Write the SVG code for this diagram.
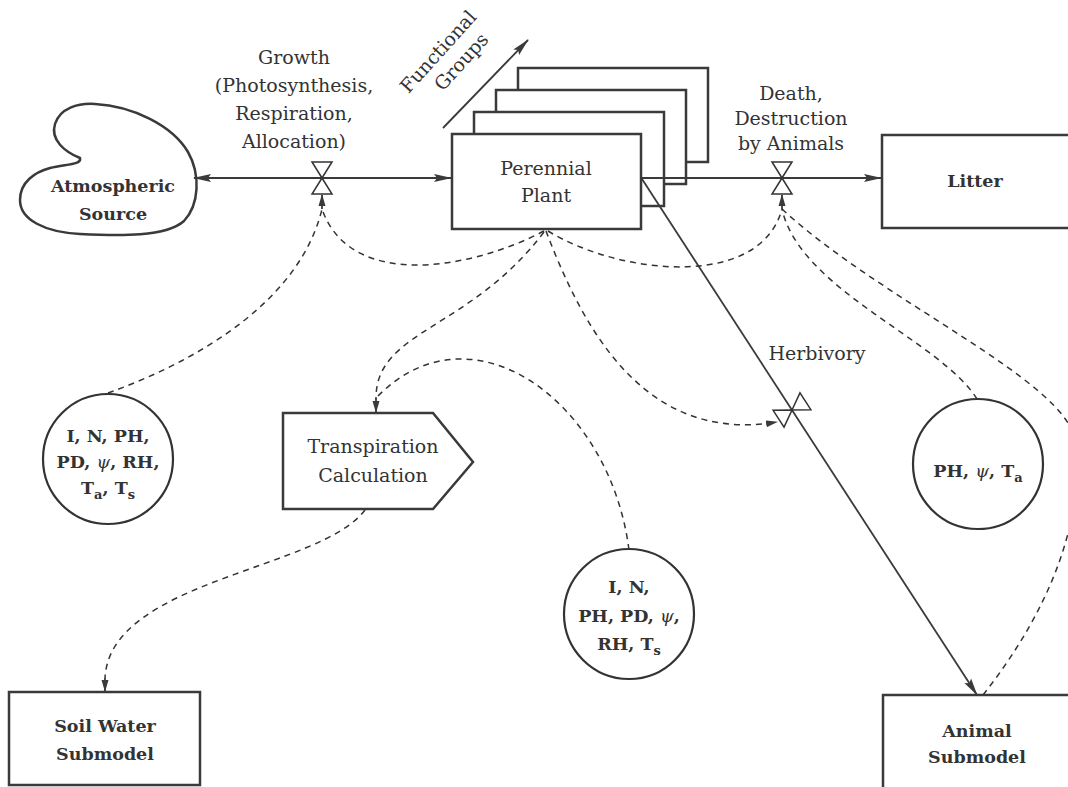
<svg xmlns="http://www.w3.org/2000/svg" width="1068" height="787" viewBox="0 0 1068 787">
<style>
.box{fill:#fff;stroke:#3a3a3a;stroke-width:2.5}
.circ{fill:#fff;stroke:#333;stroke-width:2.2}
.t{font-family:"DejaVu Serif","Liberation Serif",serif;font-size:19px;fill:#333;text-anchor:middle}
.b{font-weight:bold;font-size:17.5px}
.flow{fill:none;stroke:#3a3a3a;stroke-width:1.8}
.dash{fill:none;stroke:#333;stroke-width:1.5;stroke-dasharray:6 5}
.psi{font-style:italic;font-weight:normal}
</style>
<defs>
<marker id="big" markerUnits="userSpaceOnUse" viewBox="0 0 18 10" refX="17" refY="5" markerWidth="18" markerHeight="10" orient="auto"><path d="M0,1 L18,5 L0,9 L3,5 Z" fill="#3a3a3a"/></marker>
<marker id="small" markerUnits="userSpaceOnUse" viewBox="0 0 12 8" refX="11" refY="4" markerWidth="12" markerHeight="8" orient="auto"><path d="M0,0.5 L12,4 L0,7.5 Z" fill="#3a3a3a"/></marker>
<g id="valve-shape" fill="#fff" stroke="#333" stroke-width="1.5"><polygon points="0,0 -10,-16 10,-16"/><polygon points="0,0 -10,16 10,16"/></g>
</defs>
<rect width="1068" height="787" fill="#fff"/>

<g id="atmospheric-source">
<path class="box" d="M 80,158 C 65,152 50,140 55,124 C 60,108 78,103 95,104 C 132,106 172,125 188,152 C 201,175 199,205 184,221 C 166,237 120,236 80,234 C 45,232 20,220 20,200 C 20,182 35,172 50,168 C 65,164 82,165 80,158 Z"/>
<text class="t b" x="113" y="192">Atmospheric</text>
<text class="t b" x="113" y="220">Source</text>
</g>

<g id="growth-label">
<text class="t" x="294" y="64">Growth</text>
<text class="t" x="294" y="92">(Photosynthesis,</text>
<text class="t" x="294" y="120">Respiration,</text>
<text class="t" x="294" y="148">Allocation)</text>
</g>

<g id="functional-groups">
<path class="flow" d="M 443,128 L 528,40" marker-end="url(#big)"/>
<g transform="translate(443,56) rotate(-48)">
<text class="t" x="0" y="0">Functional</text>
<text class="t" x="8" y="24">Groups</text>
</g>
</g>

<g id="perennial-plant">
<rect class="box" x="518" y="68" width="190" height="94"/>
<rect class="box" x="496" y="90" width="190" height="94"/>
<rect class="box" x="474" y="112" width="190" height="94"/>
<rect class="box" x="452" y="134" width="189" height="95"/>
<text class="t" x="546" y="175">Perennial</text>
<text class="t" x="546" y="202">Plant</text>
</g>

<g id="death-label">
<text class="t" x="791" y="100">Death,</text>
<text class="t" x="791" y="125">Destruction</text>
<text class="t" x="791" y="150">by Animals</text>
</g>

<g id="litter">
<rect class="box" x="882" y="135" width="200" height="93"/>
<text class="t b" x="975" y="187">Litter</text>
</g>

<g id="herbivory-label">
<text class="t" x="817" y="360">Herbivory</text>
</g>

<g id="env-left">
<circle class="circ" cx="108" cy="459" r="65"/>
<text class="t b" x="108" y="442">I, N, PH,</text>
<text class="t b" x="108" y="468">PD, <tspan class="psi">ψ</tspan>, RH,</text>
<text class="t b" x="108" y="494">T<tspan font-size="13" dy="5">a</tspan><tspan dy="-5">, T</tspan><tspan font-size="13" dy="5">s</tspan></text>
</g>

<g id="transpiration">
<path class="box" d="M 283,413 L 433,413 L 473,462 L 433,509 L 283,509 Z"/>
<text class="t" x="373" y="453">Transpiration</text>
<text class="t" x="373" y="482">Calculation</text>
</g>

<g id="env-middle">
<circle class="circ" cx="629" cy="614" r="65"/>
<text class="t b" x="629" y="593">I, N,</text>
<text class="t b" x="629" y="622">PH, PD,  <tspan class="psi">ψ</tspan>,</text>
<text class="t b" x="629" y="650">RH, T<tspan font-size="13" dy="5">s</tspan></text>
</g>

<g id="env-right">
<circle class="circ" cx="978" cy="464" r="65"/>
<text class="t b" x="978" y="477">PH, <tspan class="psi">ψ</tspan>, T<tspan font-size="13" dy="5">a</tspan></text>
</g>

<g id="soil-water">
<rect class="box" x="9" y="692" width="191" height="93"/>
<text class="t b" x="105" y="732">Soil Water</text>
<text class="t b" x="105" y="760">Submodel</text>
</g>

<g id="animal">
<rect class="box" x="883" y="695" width="200" height="100"/>
<text class="t b" x="977" y="737">Animal</text>
<text class="t b" x="977" y="763">Submodel</text>
</g>

<g id="connectors">
<path class="flow" d="M 322,178 H 194" marker-end="url(#big)"/>
<path class="flow" d="M 322,178 H 451" marker-end="url(#big)"/>
<path class="flow" d="M 641,178 H 881" marker-end="url(#big)"/>
<path class="flow" d="M 642,179 L 977,695" marker-end="url(#big)"/>

<path class="dash" d="M 544,231 C 470,270 350,290 322,209"/>
<path class="dash" d="M 108,393 C 200,360 300,300 322,209"/>
<path class="flow" d="M 322,209 V 195" marker-end="url(#small)"/>

<path class="dash" d="M 548,231 C 620,275 760,290 782,209"/>
<path class="dash" d="M 977,399 C 940,340 800,290 782,209"/>
<path class="dash" d="M 983,695 C 1050,610 1085,520 1075,440 C 1065,380 880,300 782,209"/>
<path class="flow" d="M 782,209 V 195" marker-end="url(#small)"/>

<path class="dash" d="M 546,231 C 580,320 640,445 777,422" marker-end="url(#small)"/>

<path class="dash" d="M 544,232 C 470,330 376,330 376,398"/>
<path class="dash" d="M 629,550 C 610,400 470,300 376,398"/>
<path class="flow" d="M 376,398 V 412" marker-end="url(#small)"/>

<path class="dash" d="M 365,510 C 320,570 110,580 105,678"/>
<path class="flow" d="M 105,678 V 691" marker-end="url(#small)"/>
</g>

<g id="valve-growth"><use href="#valve-shape" x="322" y="178"/></g>
<g id="valve-death"><use href="#valve-shape" x="782" y="178"/></g>
<g id="valve-herbivory" transform="translate(792,410) rotate(57)"><use href="#valve-shape"/></g>
</svg>
